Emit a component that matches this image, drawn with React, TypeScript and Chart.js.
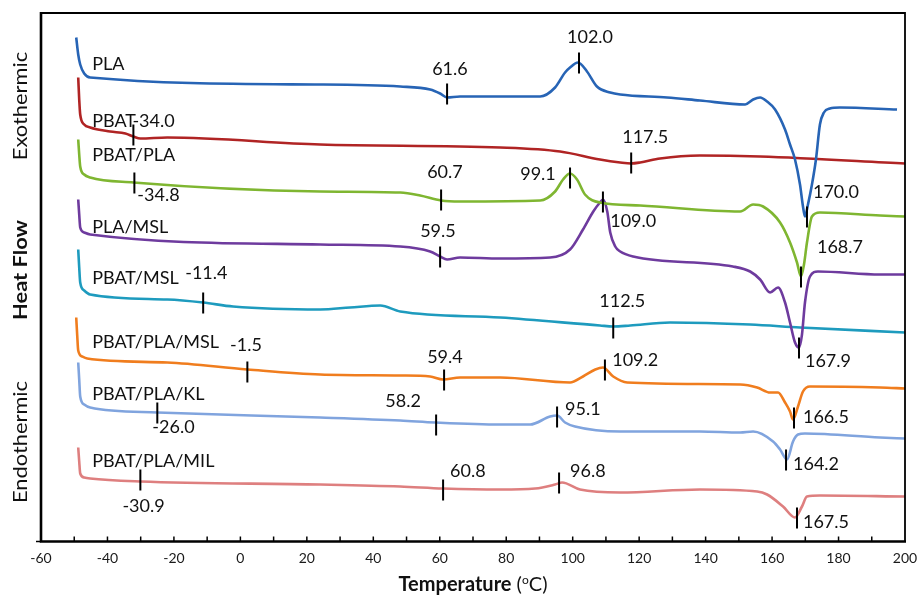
import React, { useEffect, useRef } from "react";
import { Chart, registerables } from "chart.js";

Chart.register(...registerables);

// ---------- data (temperature °C, heat flow a.u. with vertical offsets) ----------
const SERIES_NAMES = ["PLA", "PBAT", "PBAT/PLA", "PLA/MSL", "PBAT/MSL", "PBAT/PLA/MSL", "PBAT/PLA/KL", "PBAT/PLA/MIL"];
const SERIES_COLORS = ["#2764B5", "#B02424", "#7FB631", "#6E3B9E", "#1E9BBE", "#F07D1E", "#80A4DE", "#DE7F7F"];

const PLA: number[][] = [
  [-49.4, 50.4], [-48.8, 48.7], [-48.2, 47.7], [-47.0, 46.8], [-45.2, 46.4], [24.0, 45.7], [48.1, 45.5],
  [57.1, 45.2], [60.1, 44.8], [62.2, 44.4], [66.1, 44.5], [78.2, 44.5], [90.2, 44.5], [94.7, 45.4],
  [97.7, 46.9], [99.2, 47.4], [101.6, 47.9], [104.3, 47.0], [107.3, 45.5], [111.3, 44.9], [114.3, 44.7],
  [128.4, 44.4], [138.3, 44.1], [151.9, 43.7], [154.3, 44.2], [156.4, 44.4], [158.5, 44.0], [160.9, 43.2],
  [163.9, 41.2], [165.4, 39.7], [166.9, 38.2], [168.4, 35.7], [169.3, 33.5], [169.9, 32.5], [170.8, 33.7],
  [172.0, 35.7], [173.2, 38.2], [174.4, 41.7], [175.6, 42.9], [177.4, 43.3], [180.4, 43.4], [197.6, 43.2],
];
const PBAT: number[][] = [
  [-48.8, 46.4], [-48.5, 44.2], [-48.2, 42.7], [-47.0, 41.7], [-45.2, 41.4], [-39.2, 41.0], [-34.6, 40.8],
  [-32.2, 40.5], [-30.1, 40.3], [-22.0, 40.4], [24.0, 39.7], [78.2, 39.4], [96.2, 39.0], [108.2, 38.2],
  [114.3, 37.9], [117.6, 37.8], [120.3, 37.9], [126.3, 38.3], [138.3, 38.6], [156.4, 38.5], [200.0, 37.8],
];
const PBAT_PLA: number[][] = [
  [-48.8, 40.2], [-48.5, 38.7], [-48.2, 37.5], [-47.0, 36.7], [-45.2, 36.4], [-32.2, 35.9], [24.0, 35.0],
  [48.1, 34.9], [54.1, 34.6], [60.4, 34.1], [66.1, 34.0], [90.2, 34.1], [94.7, 35.0], [97.1, 36.2],
  [99.2, 36.8], [101.3, 36.2], [103.7, 34.7], [108.2, 33.9], [120.3, 33.6], [150.4, 33.0], [154.3, 33.7],
  [157.3, 33.5], [162.4, 31.9], [165.4, 29.9], [167.5, 27.9], [168.7, 26.5], [169.6, 27.7], [170.5, 29.9],
  [172.0, 32.5], [174.4, 32.9], [192.5, 32.6], [200.0, 32.5],
];
const PLA_MSL: number[][] = [
  [-48.8, 34.2], [-48.5, 32.7], [-48.2, 31.4], [-47.0, 30.9], [-45.2, 30.7], [24.0, 29.7], [48.1, 29.5],
  [57.1, 29.0], [60.1, 28.5], [62.2, 28.2], [66.1, 28.4], [78.2, 28.3], [93.2, 28.4], [99.2, 29.2],
  [103.1, 31.2], [106.2, 33.0], [108.2, 33.9], [109.1, 34.2], [110.4, 33.0], [111.3, 30.9], [112.8, 29.5],
  [114.3, 29.0], [118.2, 28.5], [148.2, 27.5], [153.4, 27.0], [156.4, 26.2], [159.4, 24.9], [161.8, 25.4],
  [163.9, 23.9], [165.4, 21.9], [166.9, 19.9], [168.1, 19.4], [169.0, 20.7], [169.9, 23.9], [171.4, 26.5],
  [173.8, 27.0], [192.5, 26.7], [200.0, 26.7],
];
const PBAT_MSL: number[][] = [
  [-48.8, 29.2], [-48.5, 27.4], [-48.2, 25.9], [-47.0, 25.1], [-45.2, 24.7], [-22.0, 24.2], [-11.2, 23.9],
  [-2.2, 23.5], [24.0, 23.2], [33.0, 23.4], [42.1, 23.6], [48.1, 23.0], [78.2, 22.4], [108.2, 21.6],
  [112.2, 21.5], [117.3, 21.6], [129.3, 21.9], [153.4, 21.7], [168.4, 21.4], [200.0, 20.9],
];
const PBAT_PLA_MSL: number[][] = [
  [-49.4, 22.4], [-49.1, 20.6], [-48.8, 19.1], [-47.6, 18.5], [-46.1, 18.3], [-22.0, 17.9], [2.1, 17.2],
  [24.0, 16.7], [48.1, 16.6], [57.1, 16.5], [61.0, 16.2], [66.1, 16.4], [78.2, 16.4], [99.2, 15.9],
  [103.1, 16.5], [106.8, 17.2], [109.1, 17.4], [112.2, 16.5], [116.4, 15.9], [150.4, 15.7], [155.5, 15.4],
  [159.4, 14.9], [161.8, 14.9], [163.9, 13.9], [165.4, 13.0], [166.3, 12.2], [167.8, 13.5], [169.3, 15.0],
  [171.4, 15.5], [192.5, 15.4], [200.0, 15.3],
];
const PBAT_PLA_KL: number[][] = [
  [-48.8, 17.9], [-48.5, 16.2], [-48.2, 14.5], [-47.0, 13.7], [-45.2, 13.4], [-25.0, 12.9], [24.0, 12.4],
  [48.1, 12.1], [58.6, 11.9], [78.2, 11.7], [87.2, 11.7], [93.2, 12.5], [95.3, 12.6], [97.7, 11.9],
  [100.7, 11.5], [114.3, 11.0], [138.3, 11.0], [150.4, 10.9], [154.3, 11.0], [160.3, 10.0], [162.4, 9.2],
  [164.5, 8.2], [166.3, 10.0], [167.8, 10.7], [169.9, 10.8], [192.5, 10.4], [200.0, 10.3],
];
const PBAT_PLA_MIL: number[][] = [
  [-48.8, 9.4], [-48.5, 8.0], [-48.2, 6.8], [-47.0, 6.4], [-45.2, 6.3], [-30.1, 6.0], [24.0, 5.7],
  [48.1, 5.5], [61.0, 5.3], [78.2, 5.2], [88.7, 5.3], [94.7, 5.7], [96.8, 5.9], [102.2, 5.2],
  [114.3, 4.9], [138.3, 5.2], [155.5, 5.0], [158.5, 4.7], [163.3, 3.5], [166.9, 2.4], [169.0, 3.5],
  [170.5, 4.5], [174.4, 4.6], [200.0, 4.5],
];
const SERIES_DATA = [PLA, PBAT, PBAT_PLA, PLA_MSL, PBAT_MSL, PBAT_PLA_MSL, PBAT_PLA_KL, PBAT_PLA_MIL];

// series name labels: left temperature and baseline heat flow
const NAME_T = [-44.6, -44.6, -44.6, -44.6, -44.6, -44.6, -44.6, -44.6];
const NAME_HF = [47.15, 41.45, 38.05, 30.85, 25.75, 19.35, 14.15, 7.45];

// transition annotations
const ANN_TEXT = ["61.6", "102.0", "-34.0", "117.5", "-34.8", "60.7", "99.1", "170.0", "168.7", "59.5", "109.0", "167.9",
  "-11.4", "112.5", "-1.5", "59.4", "109.2", "166.5", "-26.0", "58.2", "95.1", "164.2", "-30.9", "60.8", "96.8", "167.5"];
const ANN_T = [62.2, 101.9, -32.2, 117.6, -31.9, 60.4, 99.2, 170.5, 168.7, 60.1, 109.1, 168.1,
  -11.2, 112.2, 2.1, 61.3, 109.7, 166.6, -25.0, 58.9, 95.3, 164.2, -30.1, 61.0, 95.9, 167.5];
const ANN_HF = [44.75, 47.85, 40.65, 37.85, 35.85, 34.15, 36.35, 32.45, 26.45, 28.45, 33.95, 19.35,
  23.85, 21.35, 16.95, 16.15, 17.15, 12.35, 12.85, 11.65, 12.45, 8.15, 6.15, 5.15, 5.85, 2.35];
const ANN_LABEL_T = [57.7, 98.3, -32.5, 114.9, -31.0, 56.2, 84.2, 172.3, 173.5, 54.1, 111.3, 169.9,
  -16.6, 108.0, -3.1, 56.2, 111.9, 169.3, -26.5, 43.6, 97.7, 166.3, -35.5, 63.1, 99.2, 169.3];
const ANN_LABEL_HF = [46.65, 49.85, 41.45, 39.85, 34.05, 36.35, 36.15, 34.35, 28.85, 30.45, 31.45, 17.45,
  26.25, 23.45, 19.05, 17.85, 17.55, 11.85, 10.85, 13.45, 12.65, 7.15, 2.95, 6.45, 6.45, 1.35];

const X_MIN = -60;
const X_MAX = 200;
const X_STEP = 20;
const X_MINOR = 10;
const Y_MIN = 0;
const Y_MAX = 52.85;

const FONT = "Lato, 'Open Sans', sans-serif";

const overlay = {
  id: "overlay",
  afterDatasetsDraw(chart: any) {
    const { ctx, chartArea: a, scales } = chart;
    const x = scales.x;
    const y = scales.y;
    ctx.save();
    ctx.strokeStyle = "#000";
    ctx.lineCap = "butt";
    // minor ticks inside
    ctx.lineWidth = 1.5;
    for (let v = X_MIN + X_MINOR; v < X_MAX; v += X_MINOR) {
      const px = x.getPixelForValue(v);
      ctx.beginPath();
      ctx.moveTo(px, a.bottom);
      ctx.lineTo(px, a.bottom - 5);
      ctx.stroke();
    }
    // frame
    ctx.lineWidth = 1.8;
    ctx.beginPath();
    ctx.moveTo(a.left, a.top);
    ctx.lineTo(a.right, a.top);
    ctx.lineTo(a.right, a.bottom);
    ctx.stroke();
    ctx.lineWidth = 2.6;
    ctx.beginPath();
    ctx.moveTo(a.left, a.top - 1);
    ctx.lineTo(a.left, a.bottom);
    ctx.lineTo(a.right + 1, a.bottom);
    ctx.stroke();
    ctx.lineWidth = 1.5;
    ctx.beginPath();
    ctx.moveTo(a.left - 5, a.bottom);
    ctx.lineTo(a.left, a.bottom);
    ctx.stroke();

    // annotation ticks
    ctx.lineWidth = 2;
    ANN_T.forEach((t, i) => {
      const px = x.getPixelForValue(t);
      const py = y.getPixelForValue(ANN_HF[i]);
      ctx.beginPath();
      ctx.moveTo(px, py - 10.5);
      ctx.lineTo(px, py + 10.5);
      ctx.stroke();
    });

    // texts
    ctx.fillStyle = "#111";
    ctx.font = `18px ${FONT}`;
    ctx.textAlign = "left";
    ctx.textBaseline = "alphabetic";
    SERIES_NAMES.forEach((n, i) => {
      ctx.fillText(n, x.getPixelForValue(NAME_T[i]), y.getPixelForValue(NAME_HF[i]));
    });
    ANN_TEXT.forEach((txt, i) => {
      ctx.fillText(txt, x.getPixelForValue(ANN_LABEL_T[i]), y.getPixelForValue(ANN_LABEL_HF[i]));
    });

    // x title
    const cx = (a.left + a.right) / 2;
    const base = 591;
    ctx.font = `bold 20px ${FONT}`;
    const w1 = ctx.measureText("Temperature").width;
    ctx.font = `20px ${FONT}`;
    const w2 = ctx.measureText(" (").width;
    ctx.font = `12px ${FONT}`;
    const w3 = ctx.measureText("o").width;
    ctx.font = `20px ${FONT}`;
    const w4 = ctx.measureText("C)").width;
    let sx = cx - (w1 + w2 + w3 + w4) / 2;
    ctx.font = `bold 20px ${FONT}`;
    ctx.fillText("Temperature", sx, base);
    sx += w1;
    ctx.font = `20px ${FONT}`;
    ctx.fillText(" (", sx, base);
    sx += w2;
    ctx.font = `12px ${FONT}`;
    ctx.fillText("o", sx, base - 7);
    sx += w3;
    ctx.font = `20px ${FONT}`;
    ctx.fillText("C)", sx, base);

    // y titles (rotated)
    const rot = (text: string, font: string, cy: number) => {
      ctx.save();
      ctx.translate(27, cy);
      ctx.rotate(-Math.PI / 2);
      ctx.scale(1.15, 1);
      ctx.font = font;
      ctx.textAlign = "center";
      ctx.textBaseline = "alphabetic";
      ctx.fillText(text, 0, 0);
      ctx.restore();
    };
    rot("Exothermic", `19px ${FONT}`, 106);
    rot("Heat Flow", `bold 19px ${FONT}`, 270);
    rot("Endothermic", `19px ${FONT}`, 442);
    ctx.restore();
  },
};

export default function App() {
  const ref = useRef<HTMLCanvasElement | null>(null);
  useEffect(() => {
    if (!ref.current) return;
    const chart = new Chart(ref.current, {
      type: "line",
      data: {
        datasets: SERIES_DATA.map((d, i) => ({
          label: SERIES_NAMES[i],
          data: d.map(([t, v]) => ({ x: t, y: v })),
          borderColor: SERIES_COLORS[i],
          backgroundColor: SERIES_COLORS[i],
          borderWidth: 2.6,
          pointRadius: 0,
          fill: false,
          cubicInterpolationMode: "monotone" as const,
        })),
      },
      options: {
        responsive: false,
        maintainAspectRatio: false,
        animation: false,
        devicePixelRatio: 1,
        layout: { padding: { left: 41, top: 13, right: 12, bottom: 0 } },
        plugins: { legend: { display: false }, tooltip: { enabled: false } },
        scales: {
          x: {
            type: "linear",
            min: X_MIN,
            max: X_MAX,
            grid: { display: false, drawTicks: false },
            border: { display: false },
            ticks: {
              stepSize: X_STEP,
              autoSkip: false,
              maxRotation: 0,
              padding: 9,
              color: "#1a1a1a",
              font: { family: FONT, size: 14 },
            },
            afterFit: (s: any) => {
              s.height = 54.5;
              s.paddingLeft = 0;
              s.paddingRight = 0;
            },
          },
          y: {
            type: "linear",
            display: false,
            min: Y_MIN,
            max: Y_MAX,
          },
        },
      },
      plugins: [overlay],
    });
    return () => chart.destroy();
  }, []);
  return (
    <div style={{ position: "fixed", left: 0, top: 0, width: 917, height: 596, background: "#fff" }}>
      <canvas ref={ref} width={917} height={596} style={{ display: "block", width: 917, height: 596 }} />
    </div>
  );
}
